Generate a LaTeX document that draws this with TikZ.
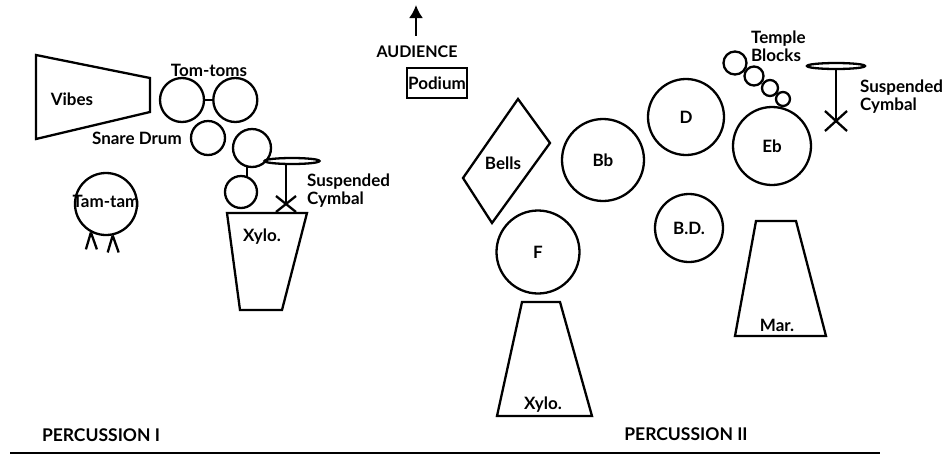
\documentclass[tikz,border=0pt]{standalone}
\usepackage{fontspec}
\setmainfont{Lato}
\usetikzlibrary{shapes.geometric,arrows.meta,positioning}

\begin{document}
\begin{tikzpicture}[x=1pt,y=-1pt,line width=2.3pt,
    drum/.style={circle,draw,inner sep=0pt,font=\fontsize{17}{18}\selectfont\bfseries},
    block/.style={circle,draw,inner sep=0pt},
    label text/.style={inner sep=0pt,font=\fontsize{17}{18}\selectfont\bfseries},
    side text/.style={label text,align=left,anchor=west},
    cymbal/.style={ellipse,draw,inner sep=0pt,minimum height=6pt}]

    \useasboundingbox (0,0) rectangle (943,456);

    % audience and podium
    \node[label text,font=\fontsize{16}{17}\selectfont\bfseries] (audience) at (417,52) {AUDIENCE};
    \coordinate (arrowtip) at (416,5);
    \node[rectangle,draw,line width=2pt,minimum width=60,minimum height=30,label text] (podium) at (437,83) {Podium};
    \draw[-{Latex[length=13pt,width=14pt]},shorten <=9pt] (audience.north -| arrowtip) -- (arrowtip);

    % percussion I
    \draw (36,55) -- (150,78) -- (150,112) -- (36,139) -- cycle;
    \node[label text] (vibes) at (72,99) {Vibes};

    \node[drum,minimum size=44] (tomA) at (182,100) {};
    \node[drum,minimum size=44] (tomB) [right=7pt of tomA] {};
    \node[label text] (tomlabel) at (209,70) {Tom-toms};

    \node[drum,minimum size=34] (snare) at (208,138) {};
    \node[label text,left=7pt of snare] (snarelabel) {Snare Drum};

    \node[drum,minimum size=38] (tomC) at (252,148) {};
    \node[drum,minimum size=32] (tomD) at (241,192) {};

    \node[drum,minimum size=62] (tamtam) at (106,204) {};
    \node[label text] (tamlabel) at (106,201) {Tam-tam};
    \draw (tamtam.-118) -- ++(-5,17) (tamtam.-118) -- ++(6,17);
    \draw (tamtam.-78) -- ++(-5,17) (tamtam.-78) -- ++(6,17);

    \node[cymbal,minimum width=55] (cymA) at (292,161) {};
    \coordinate (crossA) at (286,204);
    \draw ([shift={(-10,-8)}]crossA) -- ([shift={(10,8)}]crossA)
          ([shift={(-10,8)}]crossA) -- ([shift={(10,-8)}]crossA);
    \node[side text] (cymAlabel) at (306,191) {Suspended\\Cymbal};

    \draw (227,213) -- (307,213) -- (282,310) -- (240,310) -- cycle;
    \node[label text] (xyloA) at (262,237) {Xylo.};

    \path
        (tomA) edge (tomB)
        (tomC.-105) edge (tomC.-105 |- tomD.60)
        (cymA.south -| crossA) edge (crossA)
        ;

    % percussion II
    \draw (518,99) -- (550,143) -- (492,223) -- (463,178) -- cycle;
    \node[label text] (bells) at (503,163) {Bells};

    \node[drum,minimum size=82] (Bb) at (603,160) {Bb};
    \node[drum,minimum size=76] (D) at (686,117) {D};
    \node[drum,minimum size=78] (Eb) at (772,146) {Eb};
    \node[drum,minimum size=68] (BD) at (689,228) {B.D.};
    \node[drum,minimum size=83] (F) at (538,252) {F};

    \node[block,minimum size=23] (tbA) at (735,63) {};
    \node[block,minimum size=19] (tbB) at (754,76) {};
    \node[block,minimum size=16] (tbC) at (770,88) {};
    \node[block,minimum size=14] (tbD) at (783,99) {};
    \node[side text] (tblabel) at (750,46) {Temple\\Blocks};

    \node[cymbal,minimum width=58] (cymB) at (836,66) {};
    \coordinate (crossB) at (836,121);
    \draw ([shift={(-11,-10)}]crossB) -- ([shift={(11,10)}]crossB)
          ([shift={(-11,10)}]crossB) -- ([shift={(11,-10)}]crossB);
    \node[side text] (cymBlabel) at (859,97) {Suspended\\Cymbal};

    \path (cymB) edge (crossB);

    \draw (522,302) -- (560,302) -- (592,416) -- (497,416) -- cycle;
    \node[label text] (xyloB) at (543,405) {Xylo.};

    \draw (756,221) -- (796,221) -- (826,336) -- (735,336) -- cycle;
    \node[label text] (mar) at (777,325) {Mar.};

    % titles
    \node[label text,font=\fontsize{17.5}{18}\selectfont\bfseries] (percI) at (101,435) {PERCUSSION I};
    \node[label text,font=\fontsize{17.5}{18}\selectfont\bfseries] (percII) at (686,434) {PERCUSSION II};
    \draw (10,453) -- (880,453);
\end{tikzpicture}
\end{document}
